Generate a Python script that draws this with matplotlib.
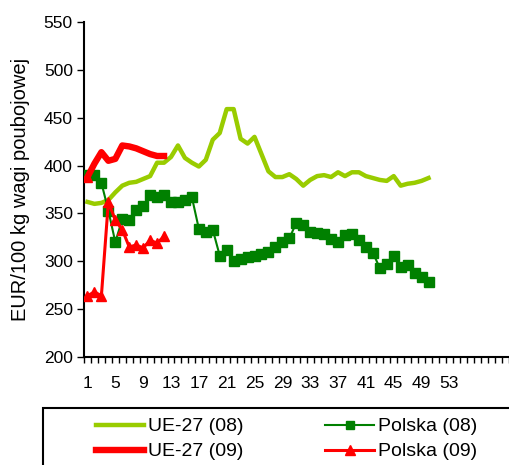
import matplotlib.pyplot as plt
import matplotlib.patches as mpatches
from matplotlib.lines import Line2D
import numpy as np

plt.rcParams["font.family"] = ["Liberation Sans", "DejaVu Sans"]

# tygodnie 2008
ue27_08 = [362, 360, 361, 364, 372, 379, 382, 383, 386, 389,
           403, 403, 409, 421, 408, 403, 399, 406, 427, 434,
           459, 459, 428, 423, 430, 412, 394, 388, 388, 391,
           386, 379, 385, 389, 390, 388, 393, 389, 393, 393,
           389, 387, 385, 384, 389, 379, 381, 382, 384, 387]
polska_08 = [390, 390, 382, 353, 320, 344, 343, 354, 358, 369,
             367, 369, 362, 362, 364, 367, 334, 331, 333, 306,
             312, 300, 302, 304, 306, 308, 310, 315, 320, 324,
             340, 338, 331, 330, 328, 323, 320, 327, 329, 322,
             315, 309, 293, 297, 305, 294, 296, 288, 284, 278]
# tygodnie 2009
ue27_09 = [388, 402, 414, 405, 407, 421, 420, 418, 415, 412, 410, 410]
polska_09 = [264, 268, 264, 362, 343, 333, 315, 317, 314, 322, 319, 326]

tyg_08 = np.arange(1, len(ue27_08) + 1)
tyg_09 = np.arange(1, len(ue27_09) + 1)

fig = plt.figure(figsize=(5.09, 4.65), dpi=100)
ax = fig.add_axes([84 / 509, 1 - 357 / 465, 431.5 / 509, 335 / 465])

ax.plot(tyg_08, ue27_08, color="#99CC00", lw=3.2, solid_joinstyle="round", zorder=2)
ax.plot(tyg_08, polska_08, color="#008000", lw=1.5, marker="s", ms=6.8, zorder=3)
ax.plot(tyg_09, ue27_09, color="#FF0000", lw=4.6, marker="^", ms=7,
        markevery=[0], solid_joinstyle="round", zorder=4)
ax.plot(tyg_09, polska_09, color="#FF0000", lw=2.2, marker="^", ms=7.5, zorder=5)

ax.set_xlim(0.5, 62.5)
ax.set_ylim(200, 550)
ax.set_yticks(np.arange(200, 551, 50))
ax.set_xticks(np.arange(1, 54, 4))
ax.set_xticks(np.arange(0.5, 62.5, 1), minor=True)
ax.tick_params(axis="x", which="major", length=0, labelsize=12.5, pad=14)
ax.tick_params(axis="x", which="minor", length=4, width=1, direction="out")
ax.tick_params(axis="y", length=5, width=1, labelsize=12.5, pad=3)
for s in ["top", "right"]:
    ax.spines[s].set_visible(False)
for s in ["left", "bottom"]:
    ax.spines[s].set_linewidth(1.5)
ax.set_ylabel("EUR/100 kg wagi poubojowej", fontsize=14.5, labelpad=10)

# ramka legendy
fig.patches.append(mpatches.Rectangle((43 / 509, -0.05), 1.0, 0.05 + 1 - 408 / 465,
                                      transform=fig.transFigure, fill=False,
                                      edgecolor="black", lw=1.5))
uchwyty = [
    Line2D([], [], color="#99CC00", lw=3.2),
    Line2D([], [], color="#FF0000", lw=4.6),
    Line2D([], [], color="#008000", lw=1.5, marker="s", ms=6),
    Line2D([], [], color="#FF0000", lw=2.2, marker="^", ms=7),
]
etykiety = ["UE-27 (08)", "UE-27 (09)", "Polska (08)", "Polska (09)"]
fig.legend(uchwyty, etykiety, ncol=2, frameon=False, fontsize=14,
           loc="upper left", bbox_to_anchor=(86 / 509, 1 - 408 / 465),
           handlelength=2.5, handletextpad=0.2, columnspacing=4.2,
           labelspacing=0.38, borderpad=0)

fig.savefig("out.png", dpi=100)
